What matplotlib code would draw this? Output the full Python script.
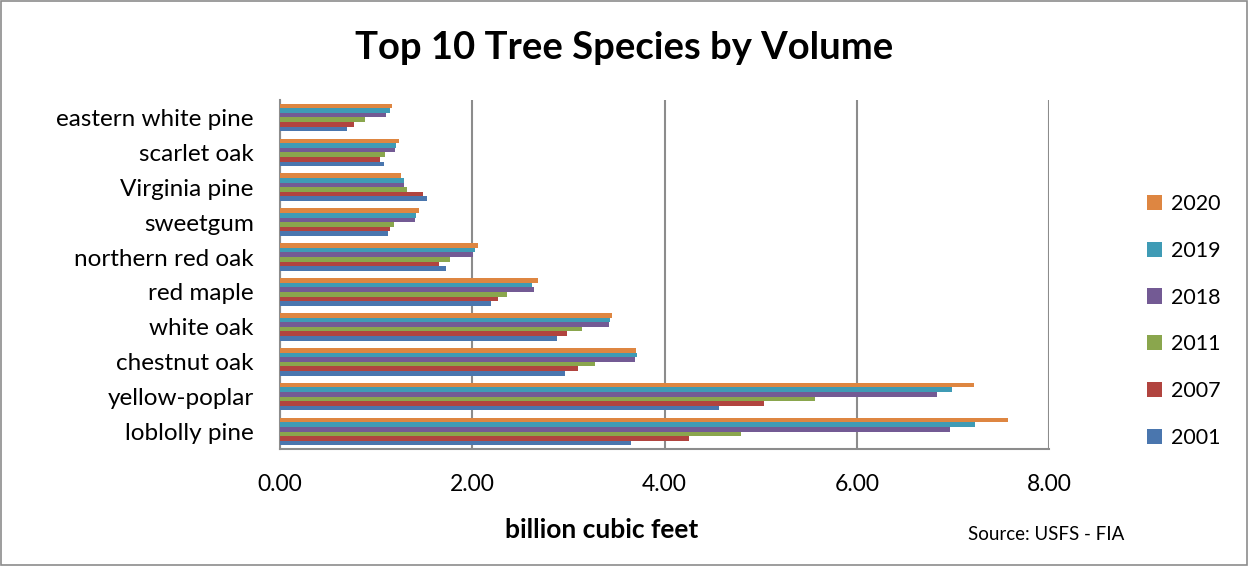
import matplotlib.pyplot as plt
import numpy as np
from matplotlib.patches import Rectangle

# species listed bottom to top as drawn
species = ["loblolly pine", "yellow-poplar", "chestnut oak", "white oak", "red maple",
           "northern red oak", "sweetgum", "Virginia pine", "scarlet oak", "eastern white pine"]

# volume, billion cubic feet
vol_2001 = [3.65, 4.57, 2.96, 2.88, 2.20, 1.73, 1.12, 1.53, 1.08, 0.70]
vol_2007 = [4.26, 5.04, 3.10, 2.99, 2.27, 1.65, 1.14, 1.49, 1.04, 0.77]
vol_2011 = [4.80, 5.57, 3.28, 3.14, 2.36, 1.77, 1.19, 1.32, 1.09, 0.88]
vol_2018 = [6.97, 6.84, 3.69, 3.42, 2.64, 2.01, 1.40, 1.29, 1.20, 1.10]
vol_2019 = [7.23, 6.99, 3.71, 3.43, 2.62, 2.03, 1.42, 1.29, 1.21, 1.14]
vol_2020 = [7.57, 7.22, 3.70, 3.45, 2.68, 2.06, 1.45, 1.26, 1.24, 1.17]

years = ["2001", "2007", "2011", "2018", "2019", "2020"]
series = [vol_2001, vol_2007, vol_2011, vol_2018, vol_2019, vol_2020]
colors = ["#4a76ae", "#b1443f", "#8aa64d", "#735a94", "#3f9bb5", "#de8641"]

plt.rcParams['font.family'] = ['Lato', 'DejaVu Sans']

fig = plt.figure(figsize=(12.49, 5.66), dpi=100)
ax = fig.add_axes([280/1249, 1-449/566, (1049-280)/1249, 349/566])

y = np.arange(len(species))
h = 0.132
for i, (yr, vals, c) in enumerate(zip(years, series, colors)):
    ax.barh(y - 2.5*h + i*h, vals, height=h, color=c, label=yr, zorder=3)

ax.set_xlim(0, 8)
ax.set_ylim(-0.5, 9.5)
ax.set_xticks([0, 2, 4, 6, 8])
ax.set_xticklabels(["0.00", "2.00", "4.00", "6.00", "8.00"])
ax.set_yticks(y)
ax.set_yticklabels(species)
ax.tick_params(axis='x', length=0, pad=18, labelsize=16.5)
ax.tick_params(axis='y', length=0, pad=19, labelsize=17.5)
ax.grid(axis='x', color='#8c8c8c', linewidth=1.5, zorder=0)
for s in ['top', 'right']:
    ax.spines[s].set_visible(False)
for s in ['left', 'bottom']:
    ax.spines[s].set_color('#8c8c8c')
    ax.spines[s].set_linewidth(1.5)

handles, labels = ax.get_legend_handles_labels()
fig.legend(handles[::-1], labels[::-1], loc='center left',
           bbox_to_anchor=(1128/1249, 1-321/566), frameon=False, fontsize=15.5,
           handlelength=0.7, handleheight=0.7, handletextpad=0.4, labelspacing=1.25)

fig.text(624/1249, 1-48/566, "Top 10 Tree Species by Volume", ha='center', va='center',
         fontsize=27.5, fontweight='bold')
fig.text(602/1249, 1-530/566, "billion cubic feet", ha='center', va='center',
         fontsize=19, fontweight='bold')
fig.text(1046/1249, 1-535/566, "Source: USFS - FIA", ha='center', va='center', fontsize=13.5)

fig.patches.append(Rectangle((0.001, 0.002), 0.997, 0.996, transform=fig.transFigure,
                             fill=False, edgecolor='#8c8c8c', linewidth=1.2))

fig.savefig("out.png", dpi=100)
